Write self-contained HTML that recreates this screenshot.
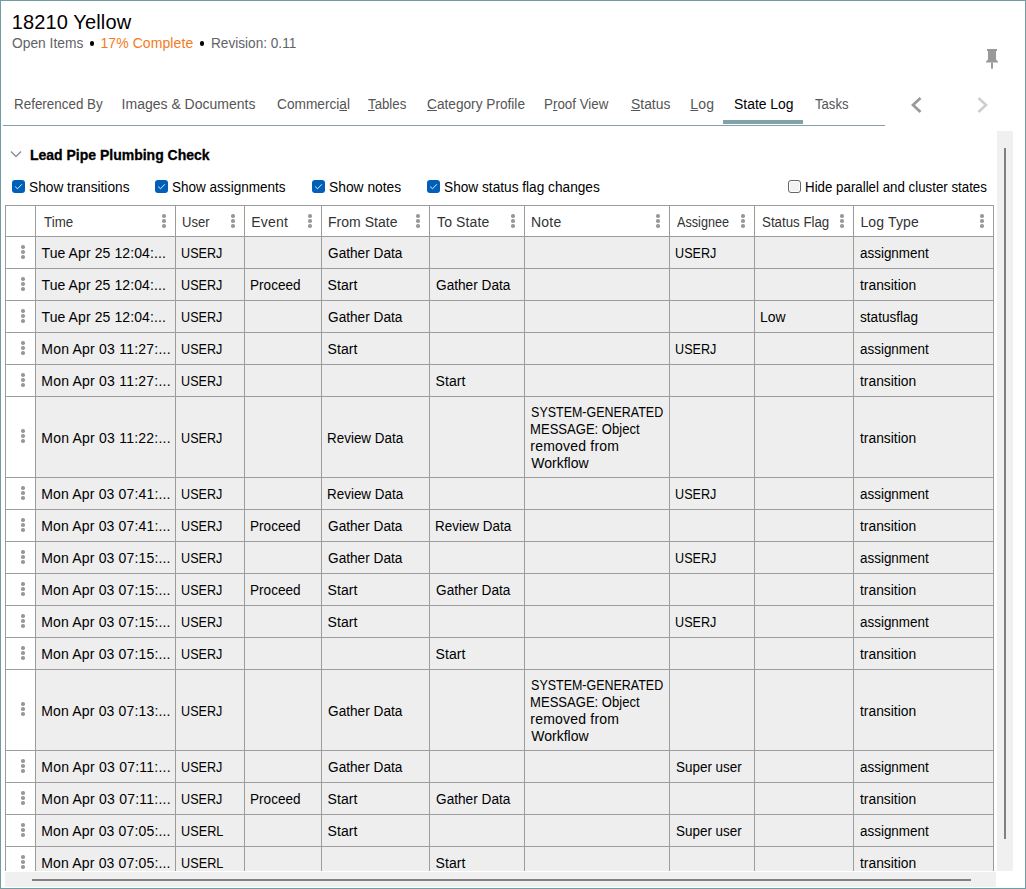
<!DOCTYPE html>
<html><head><meta charset="utf-8"><style>
html,body{margin:0;padding:0;}
body{width:1026px;height:889px;position:relative;overflow:hidden;background:#fff;font-family:"Liberation Sans", sans-serif;color:#000;}
.ab{position:absolute;}
.t{position:absolute;white-space:nowrap;line-height:17px;}
.frame{position:absolute;left:0;top:0;width:1024px;height:887px;border:1px solid #729ca4;}
.cb{position:absolute;top:180px;width:13px;height:13px;border-radius:3px;background:#005fb8;}
.hl{position:absolute;height:1px;background:#9c9c9c;}
.vl{position:absolute;width:1px;background:#9c9c9c;}
.bg{position:absolute;background:#eeeeee;}
.d{position:absolute;width:3.6px;height:3.6px;margin:0.2px 0 0 0.2px;border-radius:50%;background:#999;}
u{text-decoration:underline;text-underline-offset:1px;text-decoration-thickness:1px;}
</style></head><body>
<div class="frame"></div>

<div class="bg" style="left:36px;top:237px;width:957px;height:31px"></div>
<div class="bg" style="left:36px;top:269px;width:957px;height:31px"></div>
<div class="bg" style="left:36px;top:301px;width:957px;height:31px"></div>
<div class="bg" style="left:36px;top:333px;width:957px;height:31px"></div>
<div class="bg" style="left:36px;top:365px;width:957px;height:31px"></div>
<div class="bg" style="left:36px;top:397px;width:957px;height:80px"></div>
<div class="bg" style="left:36px;top:478px;width:957px;height:31px"></div>
<div class="bg" style="left:36px;top:510px;width:957px;height:31px"></div>
<div class="bg" style="left:36px;top:542px;width:957px;height:31px"></div>
<div class="bg" style="left:36px;top:574px;width:957px;height:31px"></div>
<div class="bg" style="left:36px;top:606px;width:957px;height:31px"></div>
<div class="bg" style="left:36px;top:638px;width:957px;height:31px"></div>
<div class="bg" style="left:36px;top:670px;width:957px;height:80px"></div>
<div class="bg" style="left:36px;top:751px;width:957px;height:31px"></div>
<div class="bg" style="left:36px;top:783px;width:957px;height:31px"></div>
<div class="bg" style="left:36px;top:815px;width:957px;height:31px"></div>
<div class="bg" style="left:36px;top:847px;width:957px;height:24px"></div>
<div class="hl" style="left:5px;top:205px;width:989px"></div>
<div class="hl" style="left:5px;top:236px;width:989px"></div>
<div class="hl" style="left:5px;top:268px;width:989px"></div>
<div class="hl" style="left:5px;top:300px;width:989px"></div>
<div class="hl" style="left:5px;top:332px;width:989px"></div>
<div class="hl" style="left:5px;top:364px;width:989px"></div>
<div class="hl" style="left:5px;top:396px;width:989px"></div>
<div class="hl" style="left:5px;top:477px;width:989px"></div>
<div class="hl" style="left:5px;top:509px;width:989px"></div>
<div class="hl" style="left:5px;top:541px;width:989px"></div>
<div class="hl" style="left:5px;top:573px;width:989px"></div>
<div class="hl" style="left:5px;top:605px;width:989px"></div>
<div class="hl" style="left:5px;top:637px;width:989px"></div>
<div class="hl" style="left:5px;top:669px;width:989px"></div>
<div class="hl" style="left:5px;top:750px;width:989px"></div>
<div class="hl" style="left:5px;top:782px;width:989px"></div>
<div class="hl" style="left:5px;top:814px;width:989px"></div>
<div class="hl" style="left:5px;top:846px;width:989px"></div>
<div class="vl" style="left:5px;top:205px;height:666px"></div>
<div class="vl" style="left:35px;top:205px;height:666px"></div>
<div class="vl" style="left:175px;top:205px;height:666px"></div>
<div class="vl" style="left:244px;top:205px;height:666px"></div>
<div class="vl" style="left:321px;top:205px;height:666px"></div>
<div class="vl" style="left:429px;top:205px;height:666px"></div>
<div class="vl" style="left:524px;top:205px;height:666px"></div>
<div class="vl" style="left:669px;top:205px;height:666px"></div>
<div class="vl" style="left:754px;top:205px;height:666px"></div>
<div class="vl" style="left:853px;top:205px;height:666px"></div>
<div class="vl" style="left:993px;top:205px;height:666px"></div>
<div class="d" style="left:162px;top:214px"></div>
<div class="d" style="left:162px;top:219px"></div>
<div class="d" style="left:162px;top:224px"></div>
<div class="d" style="left:231px;top:214px"></div>
<div class="d" style="left:231px;top:219px"></div>
<div class="d" style="left:231px;top:224px"></div>
<div class="d" style="left:308px;top:214px"></div>
<div class="d" style="left:308px;top:219px"></div>
<div class="d" style="left:308px;top:224px"></div>
<div class="d" style="left:416px;top:214px"></div>
<div class="d" style="left:416px;top:219px"></div>
<div class="d" style="left:416px;top:224px"></div>
<div class="d" style="left:511px;top:214px"></div>
<div class="d" style="left:511px;top:219px"></div>
<div class="d" style="left:511px;top:224px"></div>
<div class="d" style="left:656px;top:214px"></div>
<div class="d" style="left:656px;top:219px"></div>
<div class="d" style="left:656px;top:224px"></div>
<div class="d" style="left:741px;top:214px"></div>
<div class="d" style="left:741px;top:219px"></div>
<div class="d" style="left:741px;top:224px"></div>
<div class="d" style="left:840px;top:214px"></div>
<div class="d" style="left:840px;top:219px"></div>
<div class="d" style="left:840px;top:224px"></div>
<div class="d" style="left:980px;top:214px"></div>
<div class="d" style="left:980px;top:219px"></div>
<div class="d" style="left:980px;top:224px"></div>
<div class="d" style="left:21px;top:245px"></div>
<div class="d" style="left:21px;top:250px"></div>
<div class="d" style="left:21px;top:255px"></div>
<div class="d" style="left:21px;top:277px"></div>
<div class="d" style="left:21px;top:282px"></div>
<div class="d" style="left:21px;top:287px"></div>
<div class="d" style="left:21px;top:309px"></div>
<div class="d" style="left:21px;top:314px"></div>
<div class="d" style="left:21px;top:319px"></div>
<div class="d" style="left:21px;top:341px"></div>
<div class="d" style="left:21px;top:346px"></div>
<div class="d" style="left:21px;top:351px"></div>
<div class="d" style="left:21px;top:373px"></div>
<div class="d" style="left:21px;top:378px"></div>
<div class="d" style="left:21px;top:383px"></div>
<div class="d" style="left:21px;top:429px"></div>
<div class="d" style="left:21px;top:434px"></div>
<div class="d" style="left:21px;top:439px"></div>
<div class="d" style="left:21px;top:486px"></div>
<div class="d" style="left:21px;top:491px"></div>
<div class="d" style="left:21px;top:496px"></div>
<div class="d" style="left:21px;top:518px"></div>
<div class="d" style="left:21px;top:523px"></div>
<div class="d" style="left:21px;top:528px"></div>
<div class="d" style="left:21px;top:550px"></div>
<div class="d" style="left:21px;top:555px"></div>
<div class="d" style="left:21px;top:560px"></div>
<div class="d" style="left:21px;top:582px"></div>
<div class="d" style="left:21px;top:587px"></div>
<div class="d" style="left:21px;top:592px"></div>
<div class="d" style="left:21px;top:614px"></div>
<div class="d" style="left:21px;top:619px"></div>
<div class="d" style="left:21px;top:624px"></div>
<div class="d" style="left:21px;top:646px"></div>
<div class="d" style="left:21px;top:651px"></div>
<div class="d" style="left:21px;top:656px"></div>
<div class="d" style="left:21px;top:702px"></div>
<div class="d" style="left:21px;top:707px"></div>
<div class="d" style="left:21px;top:712px"></div>
<div class="d" style="left:21px;top:759px"></div>
<div class="d" style="left:21px;top:764px"></div>
<div class="d" style="left:21px;top:769px"></div>
<div class="d" style="left:21px;top:791px"></div>
<div class="d" style="left:21px;top:796px"></div>
<div class="d" style="left:21px;top:801px"></div>
<div class="d" style="left:21px;top:823px"></div>
<div class="d" style="left:21px;top:828px"></div>
<div class="d" style="left:21px;top:833px"></div>
<div class="d" style="left:21px;top:855px"></div>
<div class="d" style="left:21px;top:860px"></div>
<div class="d" style="left:21px;top:865px"></div>
<div class="t" style="left:11.80px;top:13.57px;font-size:20px;color:#000;letter-spacing:0.126px;line-height:26px;top:9.07px;">18210 Yellow</div>
<div class="t" style="left:11.90px;top:34.65px;font-size:14px;color:#5f6367;transform:scaleX(0.9851);transform-origin:0.60px 0;">Open Items</div>
<div class="t" style="left:100.40px;top:34.65px;font-size:14px;color:#f47b20;letter-spacing:0.087px;">17% Complete</div>
<div class="t" style="left:210.90px;top:34.65px;font-size:14px;color:#5f6367;transform:scaleX(0.9722);transform-origin:1.10px 0;">Revision: 0.11</div>
<div class="t" style="left:13.60px;top:95.65px;font-size:14px;color:#555;transform:scaleX(0.9573);transform-origin:1.10px 0;">Referenced By</div>
<div class="t" style="left:121.60px;top:95.65px;font-size:14px;color:#555;">Images &amp; Documents</div>
<div class="t" style="left:276.50px;top:95.65px;font-size:14px;color:#555;transform:scaleX(0.9772);transform-origin:0.70px 0;">Commerci<u>a</u>l</div>
<div class="t" style="left:367.90px;top:95.65px;font-size:14px;color:#555;transform:scaleX(0.9453);transform-origin:0.30px 0;"><u>T</u>ables</div>
<div class="t" style="left:427.10px;top:95.65px;font-size:14px;color:#555;transform:scaleX(0.9759);transform-origin:0.70px 0;"><u>C</u>ategory Profile</div>
<div class="t" style="left:544.30px;top:95.65px;font-size:14px;color:#555;transform:scaleX(0.9528);transform-origin:1.10px 0;">P<u>r</u>oof View</div>
<div class="t" style="left:630.60px;top:95.65px;font-size:14px;color:#555;transform:scaleX(0.9925);transform-origin:0.60px 0;"><u>S</u>tatus</div>
<div class="t" style="left:690.30px;top:95.65px;font-size:14px;color:#555;letter-spacing:0.214px;"><u>L</u>og</div>
<div class="t" style="left:733.80px;top:95.65px;font-size:14px;color:#000;transform:scaleX(0.9940);transform-origin:0.60px 0;">State Log</div>
<div class="t" style="left:815.20px;top:95.65px;font-size:14px;color:#555;transform:scaleX(0.9347);transform-origin:0.30px 0;">Tasks</div>
<div class="t" style="left:29.90px;top:146.65px;font-size:14px;color:#000;font-weight:bold;-webkit-text-stroke:0.3px #000;">Lead Pipe Plumbing Check</div>
<div class="t" style="left:28.70px;top:178.65px;font-size:14px;color:#000;transform:scaleX(0.9782);transform-origin:0.60px 0;">Show transitions</div>
<div class="t" style="left:171.60px;top:178.65px;font-size:14px;color:#000;transform:scaleX(0.9656);transform-origin:0.60px 0;">Show assignments</div>
<div class="t" style="left:329.00px;top:178.65px;font-size:14px;color:#000;transform:scaleX(0.9867);transform-origin:0.60px 0;">Show notes</div>
<div class="t" style="left:443.50px;top:178.65px;font-size:14px;color:#000;transform:scaleX(0.9764);transform-origin:0.60px 0;">Show status flag changes</div>
<div class="t" style="left:804.60px;top:178.65px;font-size:14px;color:#000;transform:scaleX(0.9498);transform-origin:1.10px 0;">Hide parallel and cluster states</div>
<div class="t" style="left:43.50px;top:213.65px;font-size:14px;color:#333;transform:scaleX(0.9527);transform-origin:0.30px 0;">Time</div>
<div class="t" style="left:182.20px;top:213.65px;font-size:14px;color:#333;transform:scaleX(0.9297);transform-origin:1.00px 0;">User</div>
<div class="t" style="left:251.20px;top:213.65px;font-size:14px;color:#333;letter-spacing:0.247px;">Event</div>
<div class="t" style="left:328.00px;top:213.65px;font-size:14px;color:#333;letter-spacing:0.027px;">From State</div>
<div class="t" style="left:437.00px;top:213.65px;font-size:14px;color:#333;letter-spacing:0.132px;">To State</div>
<div class="t" style="left:530.90px;top:213.65px;font-size:14px;color:#333;letter-spacing:0.271px;">Note</div>
<div class="t" style="left:677.00px;top:213.65px;font-size:14px;color:#333;transform:scaleX(0.9034);transform-origin:0.00px 0;">Assignee</div>
<div class="t" style="left:761.80px;top:213.65px;font-size:14px;color:#333;transform:scaleX(0.9491);transform-origin:0.60px 0;">Status Flag</div>
<div class="t" style="left:860.40px;top:213.65px;font-size:14px;color:#333;letter-spacing:0.155px;">Log Type</div>
<div class="t" style="left:41.50px;top:244.65px;font-size:14px;color:#000;letter-spacing:0.098px;">Tue Apr 25 12:04:...</div>
<div class="t" style="left:181.20px;top:244.65px;font-size:14px;color:#000;transform:scaleX(0.8998);transform-origin:1.00px 0;">USERJ</div>
<div class="t" style="left:327.50px;top:244.65px;font-size:14px;color:#000;transform:scaleX(0.9752);transform-origin:0.70px 0;">Gather Data</div>
<div class="t" style="left:675.20px;top:244.65px;font-size:14px;color:#000;transform:scaleX(0.8998);transform-origin:1.00px 0;">USERJ</div>
<div class="t" style="left:859.70px;top:244.65px;font-size:14px;color:#000;transform:scaleX(0.9591);transform-origin:0.50px 0;">assignment</div>
<div class="t" style="left:41.50px;top:276.65px;font-size:14px;color:#000;letter-spacing:0.098px;">Tue Apr 25 12:04:...</div>
<div class="t" style="left:181.20px;top:276.65px;font-size:14px;color:#000;transform:scaleX(0.8998);transform-origin:1.00px 0;">USERJ</div>
<div class="t" style="left:250.10px;top:276.65px;font-size:14px;color:#000;transform:scaleX(0.9689);transform-origin:1.10px 0;">Proceed</div>
<div class="t" style="left:327.60px;top:276.65px;font-size:14px;color:#000;letter-spacing:0.081px;">Start</div>
<div class="t" style="left:435.50px;top:276.65px;font-size:14px;color:#000;transform:scaleX(0.9752);transform-origin:0.70px 0;">Gather Data</div>
<div class="t" style="left:860.00px;top:276.65px;font-size:14px;color:#000;transform:scaleX(0.9871);transform-origin:0.20px 0;">transition</div>
<div class="t" style="left:41.50px;top:308.65px;font-size:14px;color:#000;letter-spacing:0.098px;">Tue Apr 25 12:04:...</div>
<div class="t" style="left:181.20px;top:308.65px;font-size:14px;color:#000;transform:scaleX(0.8998);transform-origin:1.00px 0;">USERJ</div>
<div class="t" style="left:327.50px;top:308.65px;font-size:14px;color:#000;transform:scaleX(0.9752);transform-origin:0.70px 0;">Gather Data</div>
<div class="t" style="left:760.10px;top:308.65px;font-size:14px;color:#000;transform:scaleX(0.9930);transform-origin:1.10px 0;">Low</div>
<div class="t" style="left:859.90px;top:308.65px;font-size:14px;color:#000;transform:scaleX(0.9704);transform-origin:0.30px 0;">statusflag</div>
<div class="t" style="left:41.30px;top:340.65px;font-size:14px;color:#000;letter-spacing:0.220px;">Mon Apr 03 11:27:...</div>
<div class="t" style="left:181.20px;top:340.65px;font-size:14px;color:#000;transform:scaleX(0.8998);transform-origin:1.00px 0;">USERJ</div>
<div class="t" style="left:327.60px;top:340.65px;font-size:14px;color:#000;letter-spacing:0.081px;">Start</div>
<div class="t" style="left:675.20px;top:340.65px;font-size:14px;color:#000;transform:scaleX(0.8998);transform-origin:1.00px 0;">USERJ</div>
<div class="t" style="left:859.70px;top:340.65px;font-size:14px;color:#000;transform:scaleX(0.9591);transform-origin:0.50px 0;">assignment</div>
<div class="t" style="left:41.30px;top:372.65px;font-size:14px;color:#000;letter-spacing:0.220px;">Mon Apr 03 11:27:...</div>
<div class="t" style="left:181.20px;top:372.65px;font-size:14px;color:#000;transform:scaleX(0.8998);transform-origin:1.00px 0;">USERJ</div>
<div class="t" style="left:435.60px;top:372.65px;font-size:14px;color:#000;letter-spacing:0.081px;">Start</div>
<div class="t" style="left:860.00px;top:372.65px;font-size:14px;color:#000;transform:scaleX(0.9871);transform-origin:0.20px 0;">transition</div>
<div class="t" style="left:41.30px;top:429.65px;font-size:14px;color:#000;letter-spacing:0.220px;">Mon Apr 03 11:22:...</div>
<div class="t" style="left:181.20px;top:429.65px;font-size:14px;color:#000;transform:scaleX(0.8998);transform-origin:1.00px 0;">USERJ</div>
<div class="t" style="left:327.10px;top:429.65px;font-size:14px;color:#000;transform:scaleX(0.9581);transform-origin:1.10px 0;">Review Data</div>
<div class="t" style="left:530.60px;top:403.65px;font-size:14px;color:#000;transform:scaleX(0.8905);transform-origin:0.60px 0;">SYSTEM-GENERATED</div>
<div class="t" style="left:530.10px;top:420.65px;font-size:14px;color:#000;transform:scaleX(0.9321);transform-origin:1.10px 0;">MESSAGE: Object</div>
<div class="t" style="left:530.30px;top:437.65px;font-size:14px;color:#000;letter-spacing:0.209px;">removed from</div>
<div class="t" style="left:531.20px;top:454.65px;font-size:14px;color:#000;letter-spacing:0.015px;">Workflow</div>
<div class="t" style="left:860.00px;top:429.65px;font-size:14px;color:#000;transform:scaleX(0.9871);transform-origin:0.20px 0;">transition</div>
<div class="t" style="left:41.30px;top:485.65px;font-size:14px;color:#000;letter-spacing:0.165px;">Mon Apr 03 07:41:...</div>
<div class="t" style="left:181.20px;top:485.65px;font-size:14px;color:#000;transform:scaleX(0.8998);transform-origin:1.00px 0;">USERJ</div>
<div class="t" style="left:327.10px;top:485.65px;font-size:14px;color:#000;transform:scaleX(0.9581);transform-origin:1.10px 0;">Review Data</div>
<div class="t" style="left:675.20px;top:485.65px;font-size:14px;color:#000;transform:scaleX(0.8998);transform-origin:1.00px 0;">USERJ</div>
<div class="t" style="left:859.70px;top:485.65px;font-size:14px;color:#000;transform:scaleX(0.9591);transform-origin:0.50px 0;">assignment</div>
<div class="t" style="left:41.30px;top:517.65px;font-size:14px;color:#000;letter-spacing:0.165px;">Mon Apr 03 07:41:...</div>
<div class="t" style="left:181.20px;top:517.65px;font-size:14px;color:#000;transform:scaleX(0.8998);transform-origin:1.00px 0;">USERJ</div>
<div class="t" style="left:250.10px;top:517.65px;font-size:14px;color:#000;transform:scaleX(0.9689);transform-origin:1.10px 0;">Proceed</div>
<div class="t" style="left:327.50px;top:517.65px;font-size:14px;color:#000;transform:scaleX(0.9752);transform-origin:0.70px 0;">Gather Data</div>
<div class="t" style="left:435.10px;top:517.65px;font-size:14px;color:#000;transform:scaleX(0.9581);transform-origin:1.10px 0;">Review Data</div>
<div class="t" style="left:860.00px;top:517.65px;font-size:14px;color:#000;transform:scaleX(0.9871);transform-origin:0.20px 0;">transition</div>
<div class="t" style="left:41.30px;top:549.65px;font-size:14px;color:#000;letter-spacing:0.165px;">Mon Apr 03 07:15:...</div>
<div class="t" style="left:181.20px;top:549.65px;font-size:14px;color:#000;transform:scaleX(0.8998);transform-origin:1.00px 0;">USERJ</div>
<div class="t" style="left:327.50px;top:549.65px;font-size:14px;color:#000;transform:scaleX(0.9752);transform-origin:0.70px 0;">Gather Data</div>
<div class="t" style="left:675.20px;top:549.65px;font-size:14px;color:#000;transform:scaleX(0.8998);transform-origin:1.00px 0;">USERJ</div>
<div class="t" style="left:859.70px;top:549.65px;font-size:14px;color:#000;transform:scaleX(0.9591);transform-origin:0.50px 0;">assignment</div>
<div class="t" style="left:41.30px;top:581.65px;font-size:14px;color:#000;letter-spacing:0.165px;">Mon Apr 03 07:15:...</div>
<div class="t" style="left:181.20px;top:581.65px;font-size:14px;color:#000;transform:scaleX(0.8998);transform-origin:1.00px 0;">USERJ</div>
<div class="t" style="left:250.10px;top:581.65px;font-size:14px;color:#000;transform:scaleX(0.9689);transform-origin:1.10px 0;">Proceed</div>
<div class="t" style="left:327.60px;top:581.65px;font-size:14px;color:#000;letter-spacing:0.081px;">Start</div>
<div class="t" style="left:435.50px;top:581.65px;font-size:14px;color:#000;transform:scaleX(0.9752);transform-origin:0.70px 0;">Gather Data</div>
<div class="t" style="left:860.00px;top:581.65px;font-size:14px;color:#000;transform:scaleX(0.9871);transform-origin:0.20px 0;">transition</div>
<div class="t" style="left:41.30px;top:613.65px;font-size:14px;color:#000;letter-spacing:0.165px;">Mon Apr 03 07:15:...</div>
<div class="t" style="left:181.20px;top:613.65px;font-size:14px;color:#000;transform:scaleX(0.8998);transform-origin:1.00px 0;">USERJ</div>
<div class="t" style="left:327.60px;top:613.65px;font-size:14px;color:#000;letter-spacing:0.081px;">Start</div>
<div class="t" style="left:675.20px;top:613.65px;font-size:14px;color:#000;transform:scaleX(0.8998);transform-origin:1.00px 0;">USERJ</div>
<div class="t" style="left:859.70px;top:613.65px;font-size:14px;color:#000;transform:scaleX(0.9591);transform-origin:0.50px 0;">assignment</div>
<div class="t" style="left:41.30px;top:645.65px;font-size:14px;color:#000;letter-spacing:0.165px;">Mon Apr 03 07:15:...</div>
<div class="t" style="left:181.20px;top:645.65px;font-size:14px;color:#000;transform:scaleX(0.8998);transform-origin:1.00px 0;">USERJ</div>
<div class="t" style="left:435.60px;top:645.65px;font-size:14px;color:#000;letter-spacing:0.081px;">Start</div>
<div class="t" style="left:860.00px;top:645.65px;font-size:14px;color:#000;transform:scaleX(0.9871);transform-origin:0.20px 0;">transition</div>
<div class="t" style="left:41.30px;top:702.65px;font-size:14px;color:#000;letter-spacing:0.165px;">Mon Apr 03 07:13:...</div>
<div class="t" style="left:181.20px;top:702.65px;font-size:14px;color:#000;transform:scaleX(0.8998);transform-origin:1.00px 0;">USERJ</div>
<div class="t" style="left:327.50px;top:702.65px;font-size:14px;color:#000;transform:scaleX(0.9752);transform-origin:0.70px 0;">Gather Data</div>
<div class="t" style="left:530.60px;top:676.65px;font-size:14px;color:#000;transform:scaleX(0.8905);transform-origin:0.60px 0;">SYSTEM-GENERATED</div>
<div class="t" style="left:530.10px;top:693.65px;font-size:14px;color:#000;transform:scaleX(0.9321);transform-origin:1.10px 0;">MESSAGE: Object</div>
<div class="t" style="left:530.30px;top:710.65px;font-size:14px;color:#000;letter-spacing:0.209px;">removed from</div>
<div class="t" style="left:531.20px;top:727.65px;font-size:14px;color:#000;letter-spacing:0.015px;">Workflow</div>
<div class="t" style="left:860.00px;top:702.65px;font-size:14px;color:#000;transform:scaleX(0.9871);transform-origin:0.20px 0;">transition</div>
<div class="t" style="left:41.30px;top:758.65px;font-size:14px;color:#000;letter-spacing:0.220px;">Mon Apr 03 07:11:...</div>
<div class="t" style="left:181.20px;top:758.65px;font-size:14px;color:#000;transform:scaleX(0.8998);transform-origin:1.00px 0;">USERJ</div>
<div class="t" style="left:327.50px;top:758.65px;font-size:14px;color:#000;transform:scaleX(0.9752);transform-origin:0.70px 0;">Gather Data</div>
<div class="t" style="left:675.60px;top:758.65px;font-size:14px;color:#000;transform:scaleX(0.9598);transform-origin:0.60px 0;">Super user</div>
<div class="t" style="left:859.70px;top:758.65px;font-size:14px;color:#000;transform:scaleX(0.9591);transform-origin:0.50px 0;">assignment</div>
<div class="t" style="left:41.30px;top:790.65px;font-size:14px;color:#000;letter-spacing:0.220px;">Mon Apr 03 07:11:...</div>
<div class="t" style="left:181.20px;top:790.65px;font-size:14px;color:#000;transform:scaleX(0.8998);transform-origin:1.00px 0;">USERJ</div>
<div class="t" style="left:250.10px;top:790.65px;font-size:14px;color:#000;transform:scaleX(0.9689);transform-origin:1.10px 0;">Proceed</div>
<div class="t" style="left:327.60px;top:790.65px;font-size:14px;color:#000;letter-spacing:0.081px;">Start</div>
<div class="t" style="left:435.50px;top:790.65px;font-size:14px;color:#000;transform:scaleX(0.9752);transform-origin:0.70px 0;">Gather Data</div>
<div class="t" style="left:860.00px;top:790.65px;font-size:14px;color:#000;transform:scaleX(0.9871);transform-origin:0.20px 0;">transition</div>
<div class="t" style="left:41.30px;top:822.65px;font-size:14px;color:#000;letter-spacing:0.165px;">Mon Apr 03 07:05:...</div>
<div class="t" style="left:181.20px;top:822.65px;font-size:14px;color:#000;transform:scaleX(0.9051);transform-origin:1.00px 0;">USERL</div>
<div class="t" style="left:327.60px;top:822.65px;font-size:14px;color:#000;letter-spacing:0.081px;">Start</div>
<div class="t" style="left:675.60px;top:822.65px;font-size:14px;color:#000;transform:scaleX(0.9598);transform-origin:0.60px 0;">Super user</div>
<div class="t" style="left:859.70px;top:822.65px;font-size:14px;color:#000;transform:scaleX(0.9591);transform-origin:0.50px 0;">assignment</div>
<div class="t" style="left:41.30px;top:854.65px;font-size:14px;color:#000;letter-spacing:0.165px;">Mon Apr 03 07:05:...</div>
<div class="t" style="left:181.20px;top:854.65px;font-size:14px;color:#000;transform:scaleX(0.9051);transform-origin:1.00px 0;">USERL</div>
<div class="t" style="left:435.60px;top:854.65px;font-size:14px;color:#000;letter-spacing:0.081px;">Start</div>
<div class="t" style="left:860.00px;top:854.65px;font-size:14px;color:#000;transform:scaleX(0.9871);transform-origin:0.20px 0;">transition</div>
<div class="ab" style="left:89.7px;top:40.6px;width:4.8px;height:5px;border-radius:50%;background:#000"></div>
<div class="ab" style="left:199.7px;top:40.6px;width:4.8px;height:5px;border-radius:50%;background:#000"></div>
<svg class="ab" style="left:986px;top:49px" width="12" height="20" viewBox="0 0 12 20">
<rect x="1" y="0" width="10" height="2" fill="#999"/>
<rect x="2" y="2" width="8" height="9" fill="#999"/>
<polygon points="2,10.5 10,10.5 12,12.5 12,13.6 0,13.6 0,12.5" fill="#999"/>
<rect x="5" y="13.6" width="2" height="6" fill="#999"/>
</svg>
<div class="ab" style="left:723px;top:120px;width:80px;height:4px;background:#7fa3a9"></div>
<div class="ab" style="left:3px;top:125px;width:882px;height:1px;background:#7fa3a9"></div>
<svg class="ab" style="left:908px;top:94px" width="18" height="22" viewBox="0 0 18 22"><polyline points="12.5,4 5,11 12.5,18" fill="none" stroke="#999" stroke-width="2.7"/></svg>
<svg class="ab" style="left:974px;top:94px" width="18" height="22" viewBox="0 0 18 22"><polyline points="4.5,4 12,11 4.5,18" fill="none" stroke="#cfcfcf" stroke-width="2.7"/></svg>
<svg class="ab" style="left:9px;top:148px" width="14" height="12" viewBox="0 0 14 12"><polyline points="2,3.5 7,8.5 12,3.5" fill="none" stroke="#909090" stroke-width="1.5"/></svg>
<div class="cb" style="left:12px"><svg width="13" height="13" viewBox="0 0 13 13" style="position:absolute;left:0;top:0"><polyline points="3.2,6.6 5.5,8.8 9.8,4.3" fill="none" stroke="#fff" stroke-opacity="0.9" stroke-width="1"/></svg></div>
<div class="cb" style="left:155px"><svg width="13" height="13" viewBox="0 0 13 13" style="position:absolute;left:0;top:0"><polyline points="3.2,6.6 5.5,8.8 9.8,4.3" fill="none" stroke="#fff" stroke-opacity="0.9" stroke-width="1"/></svg></div>
<div class="cb" style="left:312px"><svg width="13" height="13" viewBox="0 0 13 13" style="position:absolute;left:0;top:0"><polyline points="3.2,6.6 5.5,8.8 9.8,4.3" fill="none" stroke="#fff" stroke-opacity="0.9" stroke-width="1"/></svg></div>
<div class="cb" style="left:427px"><svg width="13" height="13" viewBox="0 0 13 13" style="position:absolute;left:0;top:0"><polyline points="3.2,6.6 5.5,8.8 9.8,4.3" fill="none" stroke="#fff" stroke-opacity="0.9" stroke-width="1"/></svg></div>
<div class="ab" style="left:788px;top:180px;width:11px;height:11px;border:1px solid #666;border-radius:3px;background:#f2f2f2;box-shadow:inset 0 0 0 1px #fff"></div>
<div class="ab" style="left:1px;top:871px;width:1024px;height:17px;background:#fff"></div>
<div class="ab" style="left:997px;top:131px;width:16px;height:740px;background:#f0f0f0"></div>
<div class="ab" style="left:1004px;top:148px;width:2px;height:691px;background:#808080"></div>
<div class="ab" style="left:5px;top:872px;width:991px;height:15px;background:#f0f0f0"></div>
<div class="ab" style="left:32px;top:879px;width:939px;height:2px;background:#808080"></div>
</body></html>
